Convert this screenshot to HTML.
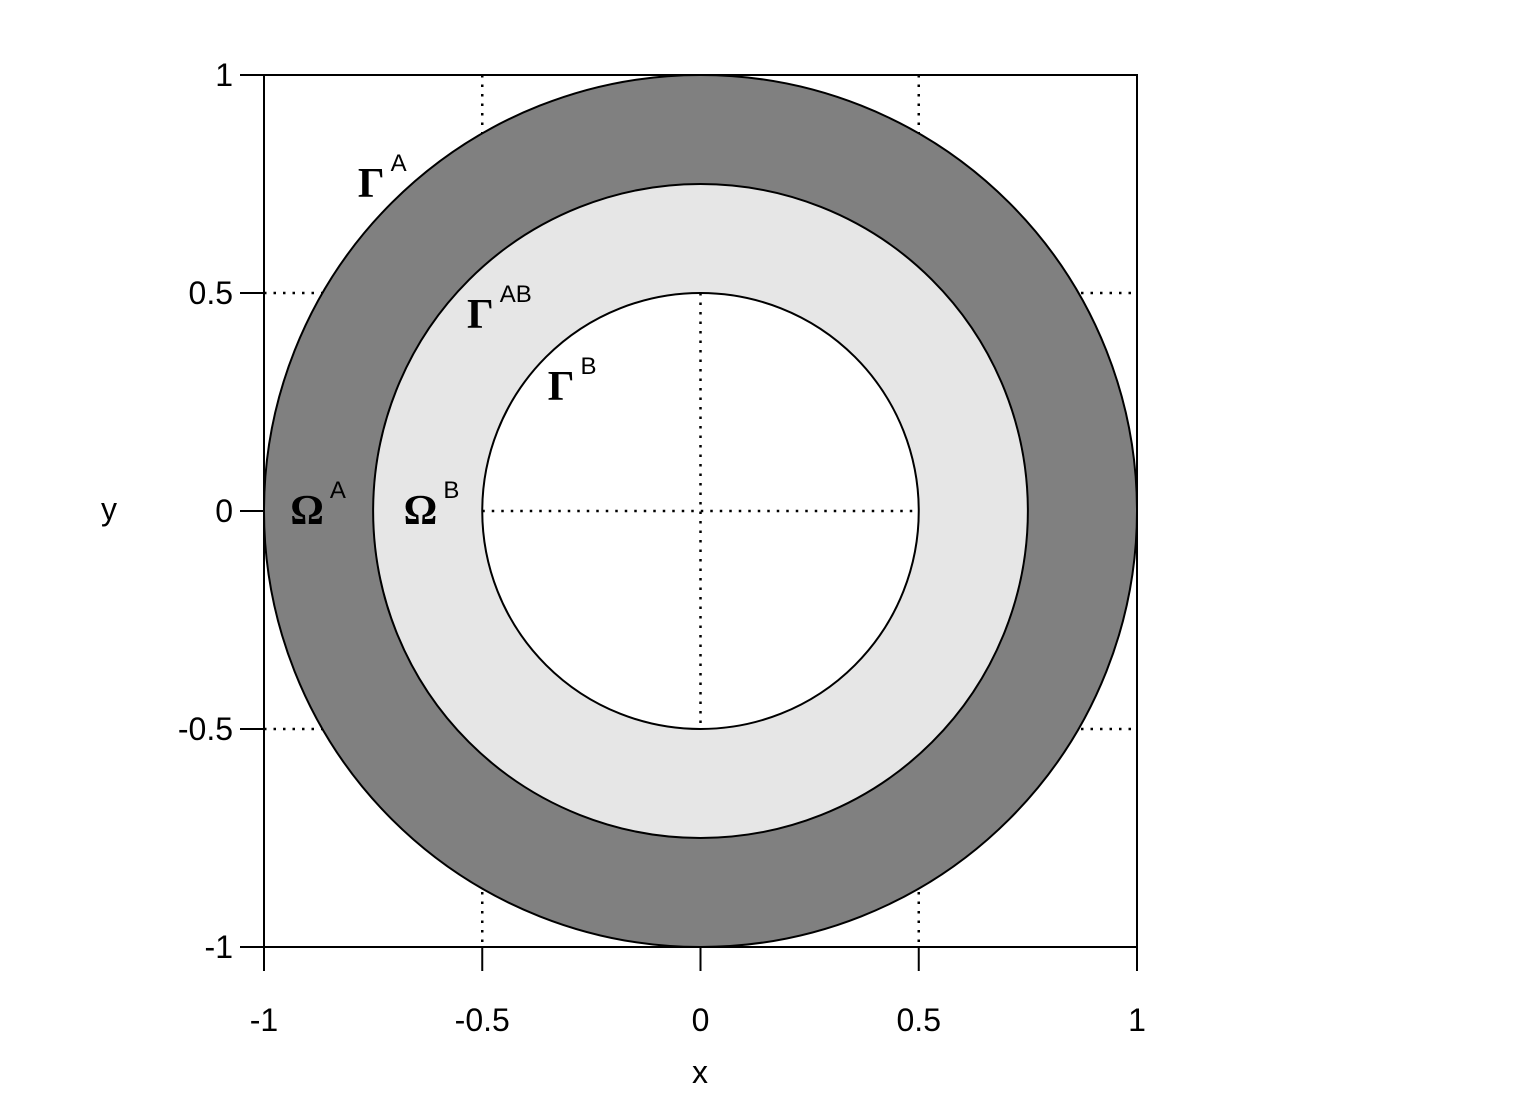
<!DOCTYPE html>
<html><head><meta charset="utf-8"><style>
body{margin:0;background:#fff}
svg text{font-family:"Liberation Sans",sans-serif}
.g{font-family:"Liberation Serif",serif;font-weight:bold;font-size:42px}
.s{font-family:"Liberation Sans",sans-serif;font-size:24px}
</style></head><body>
<svg id="c" width="1527" height="1111" xmlns="http://www.w3.org/2000/svg">
<g id="plot"></g>
</svg>
<script>
const xTicks=[-1,-0.5,0,0.5,1];
const yTicks=[-1,-0.5,0,0.5,1];
const xTickLabels=["-1","-0.5","0","0.5","1"];
const yTickLabels=["-1","-0.5","0","0.5","1"];
const radii=[1,0.75,0.5];
const fills=["#808080","#e6e6e6","#ffffff"];
const gridVals=[-0.5,0,0.5];
const regionLabels=[
 {name:"gamma-a",sym:"Γ",sup:"A",x:-0.785,y:0.72},
 {name:"gamma-ab",sym:"Γ",sup:"AB",x:-0.535,y:0.42},
 {name:"gamma-b",sym:"Γ",sup:"B",x:-0.35,y:0.255},
 {name:"omega-a",sym:"Ω",sup:"A",x:-0.94,y:-0.03},
 {name:"omega-b",sym:"Ω",sup:"B",x:-0.68,y:-0.03}
];
const X0=264,X1=1137,Y0=947,Y1=75;
const sx=v=>X0+(v+1)/2*(X1-X0);
const sy=v=>Y0-(v+1)/2*(Y0-Y1);
const NS="http://www.w3.org/2000/svg";
const g=document.getElementById('plot');
function mk(t,a,txt){const e=document.createElementNS(NS,t);for(const k in a)e.setAttribute(k,a[k]);if(txt!=null)e.textContent=txt;g.appendChild(e);return e;}
gridVals.forEach(v=>{
 let l=mk('line',{x1:sx(v),x2:sx(v),y1:Y1,y2:Y0,stroke:'#000','stroke-width':2.5,'stroke-dasharray':'2.5 7'});
 
 
 l=mk('line',{x1:X0,x2:X1,y1:sy(v),y2:sy(v),stroke:'#000','stroke-width':2.5,'stroke-dasharray':'2.5 7'});
 
 
});
radii.forEach((r,i)=>{
 const c=mk('ellipse',{cx:sx(0),cy:sy(0),rx:sx(r)-sx(0),ry:sy(0)-sy(r),fill:fills[i],stroke:'#000','stroke-width':2});
 
 
});
[0].forEach(v=>{
 let l=mk('line',{x1:sx(v),x2:sx(v),y1:sy(0.5),y2:sy(-0.5),stroke:'#000','stroke-width':2.5,'stroke-dasharray':'2.5 7'});
 
 
 l=mk('line',{x1:sx(-0.5),x2:sx(0.5),y1:sy(v),y2:sy(v),stroke:'#000','stroke-width':2.5,'stroke-dasharray':'2.5 7'});
 
 
});
const fr=mk('rect',{x:X0,y:Y1,width:X1-X0,height:Y0-Y1,fill:'none',stroke:'#000','stroke-width':2});


xTicks.forEach((v,i)=>{
 const t=mk('line',{x1:sx(v),x2:sx(v),y1:Y0,y2:Y0+24,stroke:'#000','stroke-width':2});
 
 
 const l=mk('text',{x:sx(v),y:1031,'text-anchor':'middle','font-size':32},xTickLabels[i]);
 
 
});
yTicks.forEach((v,i)=>{
 const t=mk('line',{x1:X0-24,x2:X0,y1:sy(v),y2:sy(v),stroke:'#000','stroke-width':2});
 
 
 const l=mk('text',{x:233,y:sy(v)+11,'text-anchor':'end','font-size':32},yTickLabels[i]);
 
 
});
let xl=mk('text',{x:700,y:1083,'text-anchor':'middle','font-size':32},'x');


let yl=mk('text',{x:109,y:520,'text-anchor':'middle','font-size':32},'y');


regionLabels.forEach(r=>{
 const t=mk('text',{x:sx(r.x),y:sy(r.y)});
 
 
 const a=document.createElementNS(NS,'tspan');a.setAttribute('class','g');a.textContent=r.sym;t.appendChild(a);
 const b=document.createElementNS(NS,'tspan');b.setAttribute('class','s');b.setAttribute('dy','-26');b.setAttribute('dx','6');b.textContent=r.sup;t.appendChild(b);
});
</script>
</body></html>
